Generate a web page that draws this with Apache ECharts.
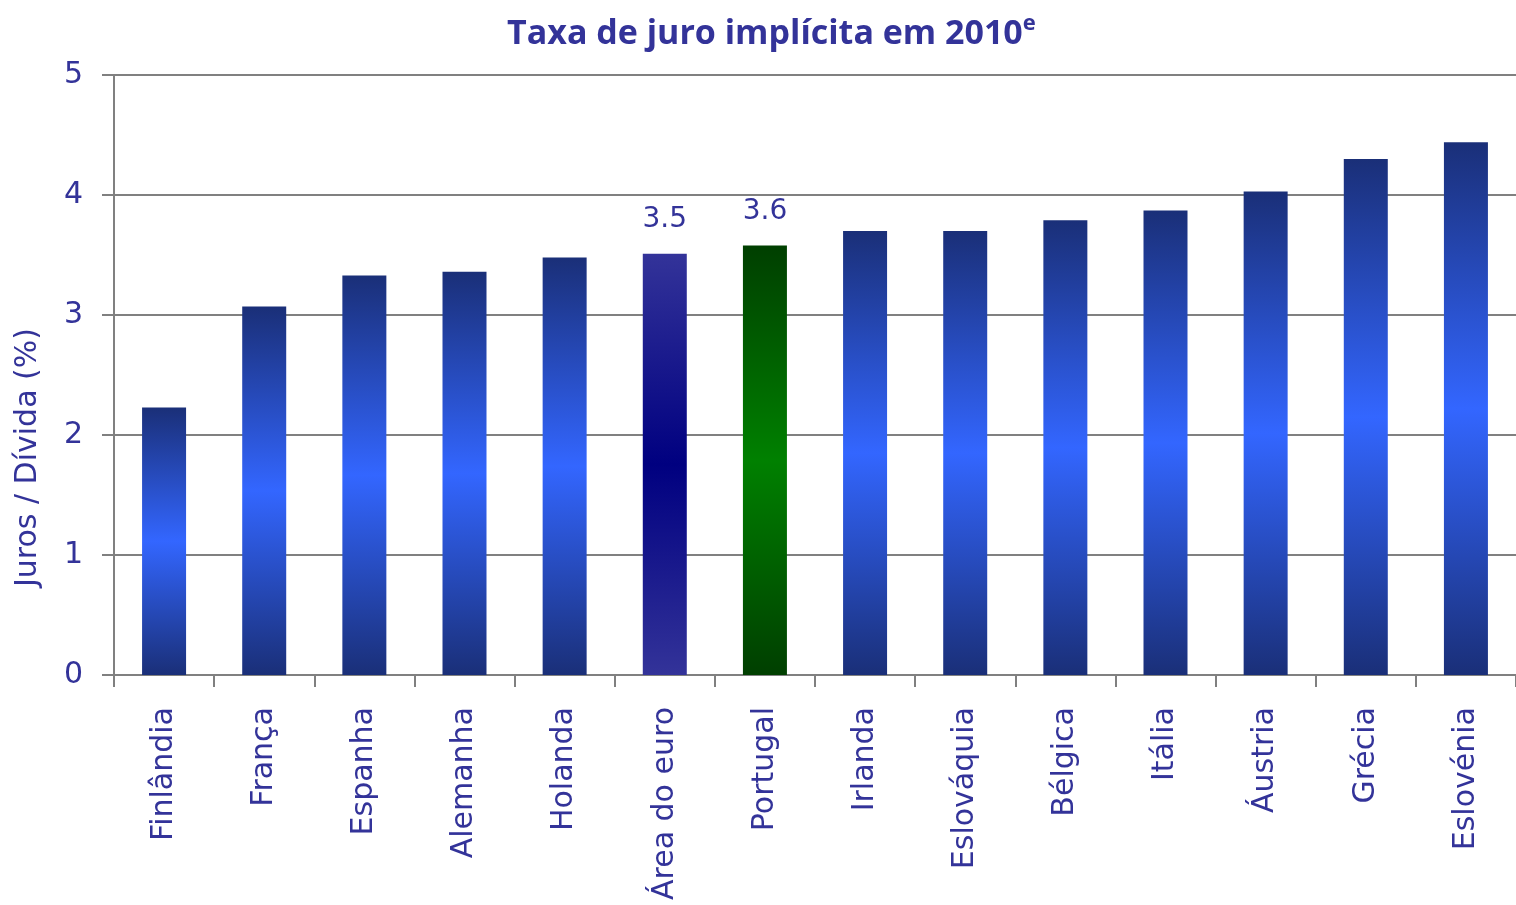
<!DOCTYPE html>
<html><head><meta charset="utf-8">
<script src="https://cdn.jsdelivr.net/npm/echarts@6/dist/echarts.min.js"></script>
<style>html,body{margin:0;padding:0;background:#fff}#c{width:1516px;height:905px}</style>
</head><body><div id="c"></div>
<script>
const categories = ['Finlândia','França','Espanha','Alemanha','Holanda','Área do euro','Portugal','Irlanda','Eslováquia','Bélgica','Itália','Áustria','Grécia','Eslovénia'];
const values = [2.23, 3.07, 3.33, 3.36, 3.48, 3.51, 3.58, 3.70, 3.70, 3.79, 3.87, 4.03, 4.30, 4.44];
const labelled = ['Área do euro', 'Portugal'];
const yTicks = [0, 1, 2, 3, 4, 5];

const txt = '#333399';
const font = 'DejaVu Sans';
function grad(edge, mid) {
  return new echarts.graphic.LinearGradient(0, 0, 0, 1, [
    {offset: 0, color: edge}, {offset: 0.5, color: mid}, {offset: 1, color: edge}
  ]);
}
const data = categories.map((c, i) => {
  let color = grad('#1a2f78', '#3366ff');
  if (c === 'Área do euro') color = grad('#333399', '#000080');
  if (c === 'Portugal') color = grad('#003f00', '#008000');
  return {
    value: values[i],
    itemStyle: {color},
    label: {show: labelled.includes(c)}
  };
});
const chart = echarts.init(document.getElementById('c'), null, {renderer: 'canvas'});
chart.setOption({
  animation: false,
  backgroundColor: '#fff',
  title: {
    text: '{t|Taxa de juro implícita em 2010}{s|e}',
    left: 502, top: 8,
    textStyle: {
      rich: {
        t: {fontFamily: 'Open Sans', fontWeight: 'bold', fontSize: 34, color: txt},
        s: {fontFamily: 'Open Sans', fontWeight: 'bold', fontSize: 22, color: txt, verticalAlign: 'top', padding: [0,0,20,0]}
      }
    }
  },
  grid: {left: 114, right: 0, top: 75, bottom: 230, containLabel: false},
  xAxis: {
    type: 'category', data: categories,
    axisLine: {show: true, lineStyle: {color: '#808080', width: 2}},
    axisTick: {show: true, length: 12, lineStyle: {color: '#808080', width: 2}},
    axisLabel: {rotate: 90, fontFamily: font, fontSize: 30, color: txt, margin: 32, interval: 0}
  },
  yAxis: {
    type: 'value', min: yTicks[0], max: yTicks[yTicks.length - 1], interval: 1,
    axisLine: {show: true, lineStyle: {color: '#808080', width: 2}},
    axisTick: {show: true, length: 12, lineStyle: {color: '#808080', width: 2}},
    splitLine: {show: true, lineStyle: {color: '#808080', width: 2}},
    axisLabel: {fontFamily: font, fontSize: 30, color: txt, margin: 31}
  },
  graphic: [{
    type: 'text', left: 13, top: 328, rotation: Math.PI / 2,
    style: {text: 'Juros / Dívida (%)', fontFamily: font, fontSize: 30, fill: txt}
  }],
  series: [{
    type: 'bar', data, barWidth: 44,
    label: {position: 'top', distance: 20, fontFamily: font, fontSize: 28, color: txt,
      formatter: p => p.value.toFixed(1)}
  }]
});
</script></body></html>
